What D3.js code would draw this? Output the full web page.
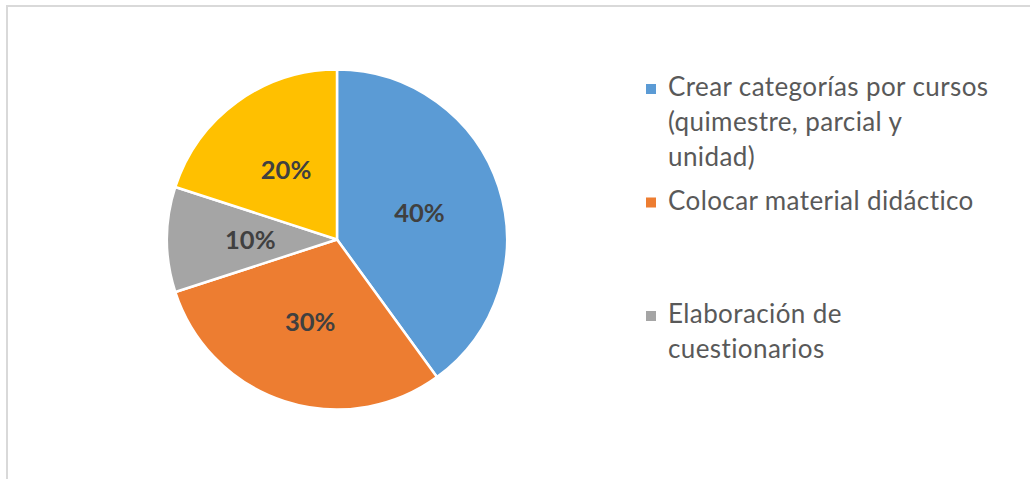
<!DOCTYPE html>
<html>
<head>
<meta charset="utf-8">
<script src="https://cdn.jsdelivr.net/npm/d3@7"></script>
<style>
html,body{margin:0;padding:0;background:#fff;}
svg{display:block;}
</style>
</head>
<body>
<svg id="chart" width="1030" height="479"></svg>
<script>
// Data
const categories = [
  "Crear categorías por cursos (quimestre, parcial y unidad)",
  "Colocar material didáctico",
  "Elaboración de cuestionarios",
  "" // 4th category: its legend entry is not visible in the reference
];
const values = [40, 30, 10, 20];
const valueLabels = ["40%", "30%", "10%", "20%"];
const colors = ["#5B9BD5", "#ED7D31", "#A5A5A5", "#FFC000"];
// legend text lines as wrapped in the reference (only first three entries shown)
const legendLines = [
  ["Crear categorías por cursos", "(quimestre, parcial y", "unidad)"],
  ["Colocar material didáctico"],
  ["Elaboración de", "cuestionarios"]
];

const svg = d3.select("#chart");

// chart frame (only top and left edges visible)
svg.append("path")
  .attr("d", "M7,479 V6 H1030")
  .attr("fill", "none")
  .attr("stroke", "#d9d9d9")
  .attr("stroke-width", 2);

const cx = 337, cy = 239.5, r = 170;
const g = svg.append("g").attr("transform", `translate(${cx},${cy})`);

const pie = d3.pie().sort(null).value(d => d)(values);
const arc = d3.arc().innerRadius(0).outerRadius(r);
const labelArc = d3.arc().innerRadius(r * 0.51).outerRadius(r * 0.51);

g.selectAll("path.slice")
  .data(pie)
  .join("path")
  .attr("class", "slice")
  .attr("d", arc)
  .attr("fill", (d, i) => colors[i])
  .attr("stroke", "#fff")
  .attr("stroke-width", 2.5)
  .attr("stroke-linejoin", "round");

g.selectAll("text.lbl")
  .data(pie)
  .join("text")
  .attr("class", "lbl")
  .attr("transform", d => `translate(${labelArc.centroid(d)})`)
  .attr("text-anchor", "middle")
  .attr("dy", "0.36em")
  .attr("font-family", "Lato, 'Open Sans', sans-serif")
  .attr("font-weight", "bold")
  .attr("font-size", 25.5)
  .attr("fill", "#404040")
  .text((d, i) => valueLabels[i]);

// legend
const legendX = 646, legendTop = 78, entryH = 113.5, lineH = 35;
const leg = svg.append("g");
legendLines.forEach((lines, i) => {
  const top = legendTop + i * entryH;
  leg.append("rect")
    .attr("x", legendX)
    .attr("y", top + 6)
    .attr("width", 10)
    .attr("height", 10)
    .attr("fill", colors[i]);
  const t = leg.append("text")
    .attr("font-family", "Lato, 'Open Sans', sans-serif")
    .attr("font-size", 26)
    .attr("letter-spacing", 0.4)
    .attr("fill", "#595959");
  lines.forEach((ln, j) => {
    t.append("tspan")
      .attr("x", legendX + 22)
      .attr("y", top + 18 + j * lineH)
      .text(ln);
  });
});
</script>
</body>
</html>
